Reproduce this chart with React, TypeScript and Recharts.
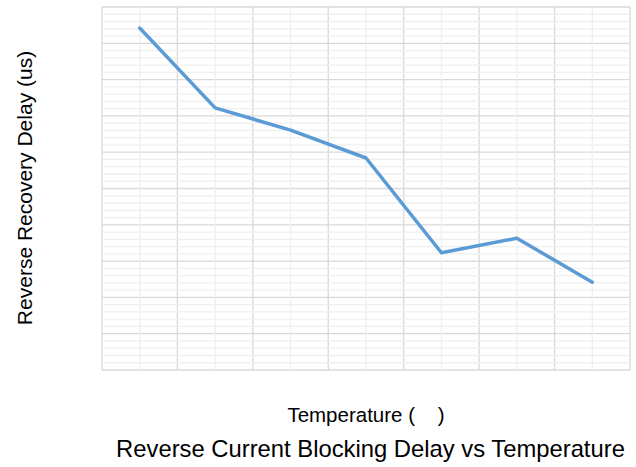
import React from "react";
import { LineChart, Line, XAxis, YAxis, CartesianGrid, ReferenceLine } from "recharts";

const categories: number[] = [1, 2, 3, 4, 5, 6, 7];
const delays: number[] = [9.42, 7.22, 6.61, 5.84, 3.23, 3.63, 2.42];
const xMajorTicks: number[] = [0.5, 1.5, 2.5, 3.5, 4.5, 5.5, 6.5, 7.5];
const yMajorTicks: number[] = [0, 1, 2, 3, 4, 5, 6, 7, 8, 9, 10];
const yMinorTicks: number[] = [];
for (let i = 0; i < 50; i++) {
  if (i % 5 !== 0) yMinorTicks.push(Math.round(i * 2) / 10);
}

const data = categories.map((c, i) => ({ x: c, y: delays[i] }));

const FONT = "'Liberation Sans', Arial, sans-serif";

export default function App() {
  return (
    <div style={{ position: "absolute", left: 0, top: 0, width: 636, height: 467, background: "#fff" }}>
      <LineChart
        width={636}
        height={467}
        data={data}
        margin={{ top: 7, right: 6, bottom: 97, left: 102 }}
      >
        <XAxis dataKey="x" type="number" domain={[0.5, 7.5]} ticks={xMajorTicks} hide />
        <YAxis type="number" domain={[0, 10]} ticks={yMajorTicks} hide />
        {yMinorTicks.map((v) => (
          <ReferenceLine key={"h" + v} y={v} stroke="#efefef" strokeWidth={1.3} />
        ))}
        {categories.map((v) => (
          <ReferenceLine key={"v" + v} x={v} stroke="#efefef" strokeWidth={1.3} />
        ))}
        <CartesianGrid stroke="#d9d9d9" strokeWidth={1.3} />
        <Line
          type="linear"
          dataKey="y"
          stroke="#5b9bd5"
          strokeWidth={3.5}
          dot={false}
          activeDot={false}
          isAnimationActive={false}
          strokeLinejoin="round"
          strokeLinecap="round"
        />
      </LineChart>
      <svg
        width={636}
        height={467}
        style={{ position: "absolute", left: 0, top: 0, pointerEvents: "none" }}
      >
        <text
          x={32}
          y={188}
          transform="rotate(-90 32 188)"
          textAnchor="middle"
          fontFamily={FONT}
          fontSize={21}
          fill="#000"
        >
          Reverse Recovery Delay (us)
        </text>
        <text x={366} y={422} textAnchor="middle" fontFamily={FONT} fontSize={20.5} fill="#000" style={{ whiteSpace: "pre" }}>
          {"Temperature (    )"}
        </text>
        <text x={370.5} y={457} textAnchor="middle" fontFamily={FONT} fontSize={23.8} fill="#000">
          Reverse Current Blocking Delay vs Temperature
        </text>
      </svg>
    </div>
  );
}
